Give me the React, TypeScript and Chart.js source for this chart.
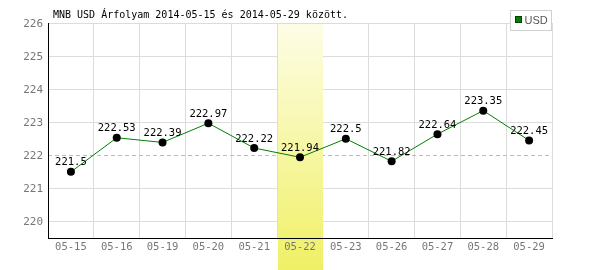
import React, { useEffect, useRef } from 'react';
import { Chart, registerables } from 'chart.js';

Chart.register(...registerables);

const categories = ['05-15', '05-16', '05-19', '05-20', '05-21', '05-22', '05-23', '05-26', '05-27', '05-28', '05-29'];
const usdRates = [221.5, 222.53, 222.39, 222.97, 222.22, 221.94, 222.5, 221.82, 222.64, 223.35, 222.45];
const yTickValues = [220, 221, 222, 223, 224, 225, 226];
const yMin = 219.5;
const yMax = 226;
const referenceLevel = 222;
const highlightCategory = '05-22';
const titleText = 'MNB USD Árfolyam 2014-05-15 és 2014-05-29 között.';
const legendLabel = 'USD';

const MONO = '"DejaVu Sans Mono", monospace';

const decorPlugin = {
  id: 'decor',
  beforeDatasetsDraw(chart: any) {
    const { ctx, chartArea, scales } = chart;
    const x = scales.x;
    const y = scales.y;
    const ry = Math.round(y.getPixelForValue(referenceLevel)) + 0.5;
    ctx.save();
    ctx.strokeStyle = '#9fd09f';
    ctx.lineWidth = 1;
    ctx.setLineDash([4, 3]);
    ctx.beginPath();
    ctx.moveTo(chartArea.left, ry);
    ctx.lineTo(chartArea.right, ry);
    ctx.stroke();
    ctx.restore();
    const idx = categories.indexOf(highlightCategory);
    if (idx >= 0) {
      const cx = x.getPixelForValue(idx);
      const w = (chartArea.right - chartArea.left) / categories.length;
      const left = Math.round(cx - w / 2) + 1;
      const right = Math.round(cx + w / 2);
      const top = chartArea.top + 1;
      const bottom = chart.height;
      const g = ctx.createLinearGradient(0, top, 0, bottom);
      g.addColorStop(0, '#fdfde6');
      g.addColorStop(1, '#f0f066');
      ctx.save();
      ctx.fillStyle = g;
      ctx.fillRect(left, top, right - left, bottom - top);
      ctx.restore();
    }
  },
  afterDatasetsDraw(chart: any) {
    const { ctx } = chart;
    const meta = chart.getDatasetMeta(0);
    ctx.save();
    ctx.font = '10.5px ' + MONO;
    ctx.fillStyle = '#000';
    ctx.textAlign = 'center';
    ctx.textBaseline = 'bottom';
    meta.data.forEach((pt: any, i: number) => {
      ctx.fillText(String(usdRates[i]), pt.x, pt.y - 4);
    });
    ctx.restore();
  },
  afterDraw(chart: any) {
    const { ctx, chartArea } = chart;
    ctx.save();
    ctx.font = '10px ' + MONO;
    ctx.fillStyle = '#000';
    ctx.textAlign = 'left';
    ctx.textBaseline = 'middle';
    ctx.fillText(titleText, 53, 15);
    const bx = chartArea.right - 41.5;
    const by = 10.5;
    ctx.fillStyle = '#fff';
    ctx.fillRect(bx, by, 41, 20);
    ctx.strokeStyle = '#d0d0d0';
    ctx.lineWidth = 1;
    ctx.strokeRect(bx, by, 41, 20);
    ctx.fillStyle = '#008000';
    ctx.fillRect(bx + 5, by + 6, 6, 6);
    ctx.strokeStyle = '#004400';
    ctx.strokeRect(bx + 5, by + 6, 6, 6);
    ctx.font = '11px "Liberation Sans", Arial, sans-serif';
    ctx.fillStyle = '#555';
    ctx.textBaseline = 'middle';
    ctx.fillText(legendLabel, bx + 14, by + 10);
    ctx.restore();
  },
};

export default function App() {
  const ref = useRef<HTMLCanvasElement | null>(null);
  useEffect(() => {
    document.body.style.margin = '0';
    if (!ref.current) return;
    const chart = new Chart(ref.current, {
      type: 'line',
      data: {
        labels: categories,
        datasets: [
          {
            label: legendLabel,
            data: usdRates,
            borderColor: '#008000',
            borderWidth: 1,
            pointRadius: 4,
            pointBackgroundColor: '#000',
            pointBorderColor: '#000',
            pointBorderWidth: 0,
            tension: 0,
            fill: false,
          },
        ],
      },
      options: {
        responsive: false,
        animation: false,
        layout: { padding: { top: 23, right: 48, left: 0, bottom: 0 } },
        plugins: {
          legend: { display: false },
          tooltip: { enabled: false },
          title: { display: false },
        },
        scales: {
          x: {
            offset: true,
            grid: { offset: true, color: '#dcdcdc', drawTicks: false },
            border: { color: '#000', width: 1, z: 1 },
            ticks: { color: '#777', font: { family: MONO, size: 10.5 }, padding: 3, z: 1, maxRotation: 0, autoSkip: false },
            afterFit: (s: any) => { s.height = 32; },
          },
          y: {
            min: yMin,
            max: yMax,
            afterBuildTicks: (s: any) => { s.ticks = yTickValues.map((v) => ({ value: v })); },
            grid: {
              drawTicks: false,
              color: (c: any) => (c.tick && c.tick.value === referenceLevel ? 'rgba(0,0,0,0)' : '#dcdcdc'),
            },
            border: { color: '#000', width: 1, z: 1 },
            ticks: { color: '#777', font: { family: MONO, size: 11 }, padding: 5, z: 1, labelOffset: 1 },
            afterFit: (s: any) => { s.width = 48; },
          },
        },
      },
      plugins: [decorPlugin],
    });
    return () => chart.destroy();
  }, []);
  return <canvas ref={ref} width={600} height={270} style={{ display: 'block' }} />;
}
